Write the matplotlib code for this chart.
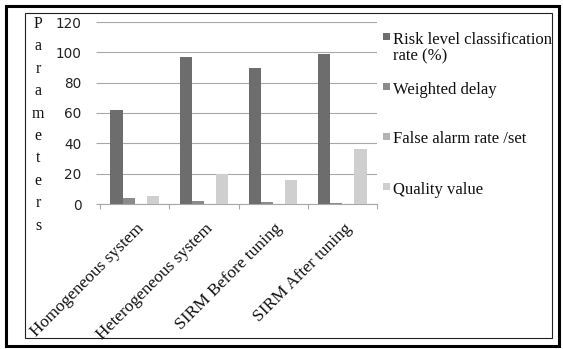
import matplotlib
matplotlib.use("Agg")
import matplotlib.pyplot as plt
from matplotlib.patches import Rectangle
from matplotlib.transforms import ScaledTranslation
import numpy as np

# Chart data
categories = ["Homogeneous system", "Heterogeneous system",
              "SIRM Before tuning", "SIRM After tuning"]
series_names = ["Risk level classification\nrate (%)", "Weighted delay",
                "False alarm rate /set", "Quality value"]
risk_rate = [62, 97, 89.5, 99]
weighted_delay = [3.8, 1.8, 1.0, 0.5]
false_alarm = [0.1, 0.08, 0.06, 0.04]
quality_value = [5, 20, 16, 36.5]
y_ticks = [0, 20, 40, 60, 80, 100, 120]
axis_title = "Parameters"

series = [risk_rate, weighted_delay, false_alarm, quality_value]
colors = ["#6d6d6d", "#8b8b8b", "#b3b3b3", "#cfcfcf"]
grid_color = "#a8a8a8"
serif = "Liberation Serif"

W, H = 563, 349
fig = plt.figure(figsize=(W / 100, H / 100), dpi=100)
fig.patch.set_facecolor("white")


def fx(px):
    return px / W


def fy(py):
    return 1 - py / H


ax = fig.add_axes([fx(100), fy(204), fx(377) - fx(100), fy(22) - fy(204)])

x = np.arange(len(categories))
width = 0.175
for i, (vals, col) in enumerate(zip(series, colors)):
    ax.bar(x + (i - 1.5) * width, vals, width, color=col, zorder=3,
           linewidth=0)

ax.set_xlim(-0.5, len(categories) - 0.5)
ax.set_ylim(0, 120)
ax.set_yticks(y_ticks)
ax.set_yticklabels([str(v) for v in y_ticks], family="DejaVu Sans",
                   fontsize=9.8, color="#222222")
ax.yaxis.grid(True, color=grid_color, linewidth=0.8)
ax.set_axisbelow(True)

for side in ("top", "right", "left"):
    ax.spines[side].set_visible(False)
ax.spines["bottom"].set_color(grid_color)
ax.spines["bottom"].set_linewidth(0.8)

ax.tick_params(axis="y", length=3, color=grid_color, width=0.8, pad=10.5)

# category labels at the centres, tick marks on the boundaries
ax.set_xticks(x)
ax.set_xticklabels(categories, rotation=45, ha="right", va="top",
                   rotation_mode="anchor", family=serif, fontsize=12.5,
                   color="#111111")
ax.set_xticks(np.arange(-0.5, len(categories)), minor=True)
ax.tick_params(axis="x", which="major", length=0, pad=12)
ax.tick_params(axis="x", which="minor", length=3.5, color=grid_color,
               width=0.8)
shift = ScaledTranslation(1 / 100, 0, fig.dpi_scale_trans)
for lab in ax.get_xticklabels():
    lab.set_transform(lab.get_transform() + shift)

# vertical axis title, one letter per line
for i, ch in enumerate(axis_title):
    fig.text(fx(38), fy(28 + 22.4 * i), ch, ha="center", va="baseline",
             family=serif, fontsize=11.5, color="#111111")

# legend
for i, (name, col) in enumerate(zip(series_names, colors)):
    cy = 36.5 + 50 * i
    fig.add_artist(Rectangle((fx(383), fy(cy + 3.5)), fx(7), 7 / H,
                             transform=fig.transFigure, color=col, lw=0))
    for j, line in enumerate(name.split("\n")):
        fig.text(fx(393), fy(cy + 7 + 17 * j), line, ha="left",
                 va="baseline", family=serif, fontsize=12,
                 color="#111111")

# frames
fig.add_artist(Rectangle((fx(25), fy(338)), fx(552) - fx(25),
                         fy(13) - fy(338), transform=fig.transFigure,
                         fill=False, lw=0.8, edgecolor="#222222"))
fig.add_artist(Rectangle((fx(5.5), fy(345.5)), fx(558.5) - fx(5.5),
                         fy(5.5) - fy(345.5), transform=fig.transFigure,
                         fill=False, lw=2.2, edgecolor="black"))

fig.savefig("out.png", dpi=100)
